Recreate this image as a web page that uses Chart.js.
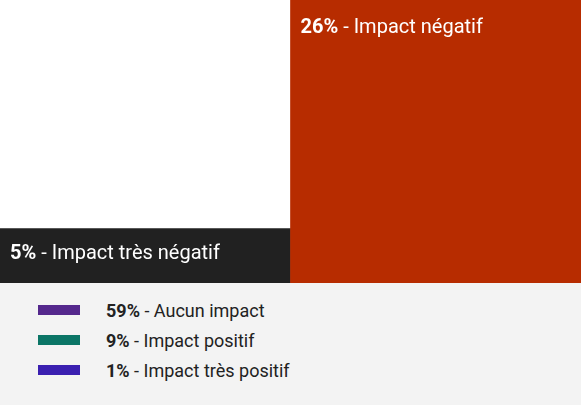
<!DOCTYPE html>
<html>
<head>
<meta charset="utf-8">
<script src="https://cdn.jsdelivr.net/npm/chart.js@4"></script>
<style>
  body { margin: 0; background: #fff; font-family: Roboto, sans-serif; }
  #wrap { position: relative; width: 581px; height: 283px; }
  #legend { width: 581px; height: 122px; background: #f3f3f3; box-sizing: border-box; padding-top: 12px; }
  .item { display: flex; align-items: center; height: 30px; font-size: 18px; color: #222; }
  .swatch { width: 42px; height: 10px; margin-left: 38px; margin-right: 26px; }
  .item b { font-weight: 700; }
</style>
</head>
<body>
<div id="wrap"><canvas id="myChart"></canvas></div>
<div id="legend"></div>
<script>
const barLabels = ["Impact très négatif", "Impact négatif"];
const barValues = [5, 26];
const barColors = ["#212121", "#b72c00"];

const otherLabels = ["Aucun impact", "Impact positif", "Impact très positif"];
const otherValues = [59, 9, 1];
const otherColors = ["#54288c", "#0b7566", "#3a1fb0"];

const barText = {
    id: "barText",
    afterDatasetsDraw(chart) {
        const ctx = chart.ctx;
        const bars = chart.getDatasetMeta(0).data;
        ctx.save();
        ctx.fillStyle = "#fff";
        ctx.textBaseline = "middle";
        bars.forEach((bar, i) => {
            const x = bar.x - bar.width / 2 + 10;
            const h = bar.base - bar.y;
            const y = bar.y + (h > 100 ? 28 : 25);
            const pct = barValues[i] + "%";
            ctx.font = "bold 20px Roboto";
            ctx.fillText(pct, x, y);
            const w = ctx.measureText(pct).width;
            ctx.font = "20px Roboto";
            ctx.fillText(" - " + barLabels[i], x + w, y);
        });
        ctx.restore();
    }
};

new Chart(document.getElementById("myChart"), {
    type: "bar",
    data: {
        labels: barLabels,
        datasets: [{
            data: barValues,
            backgroundColor: barColors,
            barPercentage: 1,
            categoryPercentage: 1,
        }]
    },
    options: {
        responsive: true,
        maintainAspectRatio: false,
        animation: false,
        layout: { padding: 0 },
        scales: {
            x: { display: false },
            y: { display: false, min: 0, max: Math.max(...barValues) }
        },
        plugins: {
            legend: { display: false },
            tooltip: { enabled: false }
        }
    },
    plugins: [barText]
});

const legend = document.getElementById("legend");
otherLabels.forEach((label, i) => {
    const row = document.createElement("div");
    row.className = "item";
    row.innerHTML = '<span class="swatch" style="background:' + otherColors[i] + '"></span>' +
        "<span><b>" + otherValues[i] + "%</b> - " + label + "</span>";
    legend.appendChild(row);
});
</script>
</body>
</html>
